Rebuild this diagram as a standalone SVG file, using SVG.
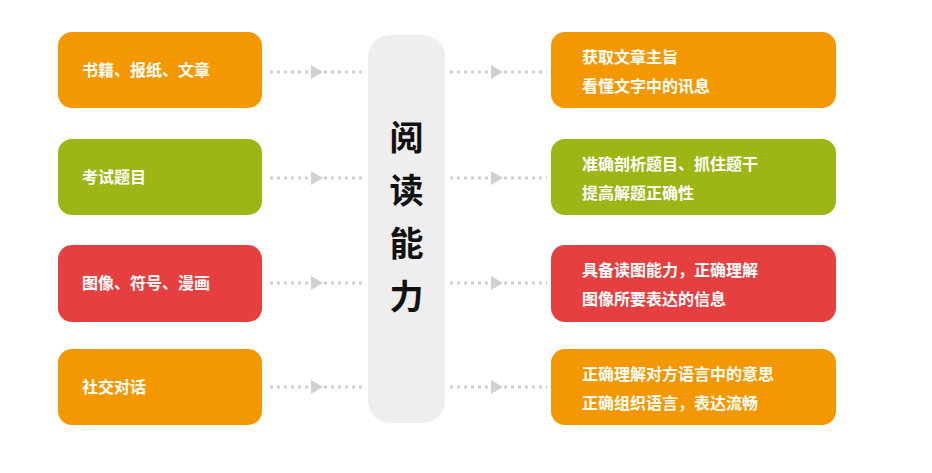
<svg xmlns="http://www.w3.org/2000/svg" width="932" height="473" viewBox="0 0 932 473">
<style>
.o{fill:#f39800}.g{fill:#9db515}.r{fill:#e5403f}
.t{font-family:"Noto Sans CJK SC",sans-serif;font-size:16px;font-weight:bold;fill:#fff}
.d{stroke:#d0d0d0;stroke-width:3;stroke-dasharray:3 4;fill:none}
.a{fill:#d0d0d0}
.c{font-family:"Noto Sans CJK SC",sans-serif;font-size:34px;font-weight:bold;fill:#111}
</style>
<rect width="932" height="473" fill="#fff"/>
<g id="connectors">
<g transform="translate(0,72)"><path class="d" d="M270 0H310M324 0H366"/><path class="a" d="M311 -7L323 0L311 7Z"/><path class="d" d="M450 0H490M504 0H547"/><path class="a" d="M491 -7L503 0L491 7Z"/></g>
<g transform="translate(0,178)"><path class="d" d="M270 0H310M324 0H366"/><path class="a" d="M311 -7L323 0L311 7Z"/><path class="d" d="M450 0H490M504 0H547"/><path class="a" d="M491 -7L503 0L491 7Z"/></g>
<g transform="translate(0,283)"><path class="d" d="M270 0H310M324 0H366"/><path class="a" d="M311 -7L323 0L311 7Z"/><path class="d" d="M450 0H490M504 0H547"/><path class="a" d="M491 -7L503 0L491 7Z"/></g>
<g transform="translate(0,387)"><path class="d" d="M270 0H310M324 0H366"/><path class="a" d="M311 -7L323 0L311 7Z"/><path class="d" d="M450 0H490M504 0H547"/><path class="a" d="M491 -7L503 0L491 7Z"/></g>
</g>
<g id="center"><rect x="368" y="35" width="77" height="388" rx="22" fill="#eeeeee"/>
<text class="c" x="406.5" y="150" text-anchor="middle">阅</text>
<text class="c" x="406.5" y="203" text-anchor="middle">读</text>
<text class="c" x="406.5" y="256" text-anchor="middle">能</text>
<text class="c" x="406.5" y="309" text-anchor="middle">力</text></g>
<g id="l1"><rect class="o" x="58" y="32" width="204" height="76" rx="14"/><text class="t" x="82" y="76">书籍、报纸、文章</text></g>
<g id="l2"><rect class="g" x="58" y="139" width="204" height="76" rx="14"/><text class="t" x="82" y="183">考试题目</text></g>
<g id="l3"><rect class="r" x="58" y="245" width="204" height="77" rx="14"/><text class="t" x="82" y="289">图像、符号、漫画</text></g>
<g id="l4"><rect class="o" x="58" y="349" width="204" height="76" rx="14"/><text class="t" x="82" y="393">社交对话</text></g>
<g id="r1"><rect class="o" x="551" y="32" width="285" height="76" rx="14"/><text class="t" x="582" y="63">获取文章主旨</text><text class="t" x="582" y="92">看懂文字中的讯息</text></g>
<g id="r2"><rect class="g" x="551" y="139" width="285" height="76" rx="14"/><text class="t" x="582" y="170">准确剖析题目、抓住题干</text><text class="t" x="582" y="199">提高解题正确性</text></g>
<g id="r3"><rect class="r" x="551" y="245" width="285" height="77" rx="14"/><text class="t" x="582" y="276">具备读图能力，正确理解</text><text class="t" x="582" y="305">图像所要表达的信息</text></g>
<g id="r4"><rect class="o" x="551" y="349" width="285" height="76" rx="14"/><text class="t" x="582" y="380">正确理解对方语言中的意思</text><text class="t" x="582" y="409">正确组织语言，表达流畅</text></g>
</svg>
